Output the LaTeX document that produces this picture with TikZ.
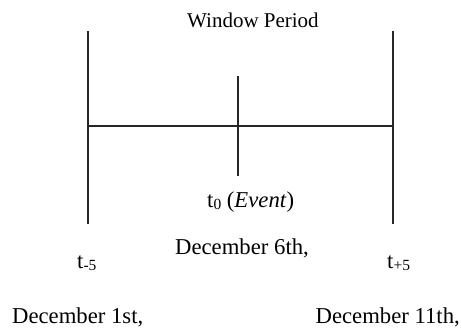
\documentclass[tikz,border=0pt]{standalone}
\usepackage{fontspec}
\setmainfont{Liberation Serif}
\newcommand{\sbs}[1]{\raisebox{-0.25ex}{\fontsize{15.5}{15.5}\selectfont #1}}
\begin{document}
\begin{tikzpicture}[x=1pt,y=-1pt,
  lbl/.style={inner sep=0pt,font=\fontsize{22.7}{24}\selectfont},
  ttl/.style={inner sep=0pt,font=\fontsize{21}{22}\selectfont},
  ln/.style={line width=2pt,black!85}]
\useasboundingbox (0,0) rectangle (461,327);
\coordinate (LT) at (88,31);
\coordinate (LB) at (88,224);
\coordinate (RT) at (393,31);
\coordinate (RB) at (393,224);
\coordinate (LM) at (88,126);
\coordinate (RM) at (393,126);
\coordinate (MT) at (238,76);
\coordinate (MB) at (238,176);
\draw[ln] (LT) -- (LB);
\draw[ln] (RT) -- (RB);
\draw[ln] (LM) -- (RM);
\draw[ln] (MT) -- (MB);
\node[ttl,anchor=base west] (title) at (187,27) {Window Period};
\node[lbl,anchor=base west] (t0) at (207,207) {t\sbs{0} (\textit{Event})};
\node[lbl,anchor=base west] (d6) at (175,254) {December 6th,};
\node[lbl,anchor=base west] (tm) at (77,268) {t\sbs{-5}};
\node[lbl,anchor=base west] (tp) at (387,268) {t\sbs{+5}};
\node[lbl,anchor=base west] (d1) at (12,323) {December 1st,};
\node[lbl,anchor=base east] (d11) at (460,323) {December 11th,};
\end{tikzpicture}
\end{document}
